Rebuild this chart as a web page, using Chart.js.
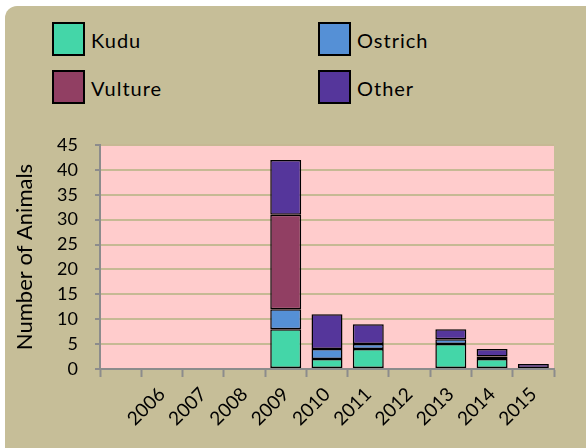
<!DOCTYPE html>
<html>
<head>
    <title>Number of Animals</title>
    <script src="https://cdn.jsdelivr.net/npm/chart.js"></script>
    <style>
        body, html {
            margin: 0;
            padding: 0;
            width: 586px;
            height: 448px;
            overflow: hidden;
            background: #fff;
            font-family: Lato, 'Open Sans', sans-serif;
        }

        .panel {
            position: absolute;
            left: 5px;
            top: 6px;
            width: 600px;
            height: 460px;
            background: #c6be98;
            border-radius: 12px;
        }

        .legend-item {
            position: absolute;
            height: 34px;
            font-size: 20px;
            letter-spacing: 1px;
            color: #000;
        }

        .legend-item .box {
            position: absolute;
            left: 0;
            top: 0;
            width: 29px;
            height: 30px;
            border: 2px solid #000;
        }

        .legend-item span {
            position: absolute;
            left: 39px;
            top: 6px;
            white-space: nowrap;
        }

        #chartWrap {
            position: absolute;
            left: 0;
            top: 0;
            width: 586px;
            height: 448px;
        }
    </style>
</head>
<body>

<div class="panel"></div>

<!-- legend, two columns -->
<div class="legend-item" style="left:52px; top:22px;"><div class="box" style="background:#44d6a8"></div><span>Kudu</span></div>
<div class="legend-item" style="left:318px; top:22px;"><div class="box" style="background:#5590d6"></div><span>Ostrich</span></div>
<div class="legend-item" style="left:52px; top:70px;"><div class="box" style="background:#913f63"></div><span>Vulture</span></div>
<div class="legend-item" style="left:318px; top:70px;"><div class="box" style="background:#55369b"></div><span>Other</span></div>

<div id="chartWrap"><canvas id="animalChart"></canvas></div>

<script>
    // first category has no label in the original
    const years = ['', '2006', '2007', '2008', '2009', '2010', '2011', '2012', '2013', '2014', '2015'];
    const kudu    = [null, null, null, null, 8, 2, 4, null, 5, 2, null];
    const ostrich = [null, null, null, null, 4, 2, 1, null, 1, 0.5, null];
    const vulture = [null, null, null, null, 19, null, null, null, null, null, null];
    const other   = [null, null, null, null, 11, 7, 4, null, 2, 1.5, 1];
    const yTicks  = [0, 5, 10, 15, 20, 25, 30, 35, 40, 45];

    const plotBg = {
        id: 'plotBg',
        beforeDraw(chart) {
            const a = chart.chartArea;
            const ctx = chart.ctx;
            ctx.save();
            ctx.fillStyle = '#ffcccc';
            ctx.fillRect(a.left, a.top, a.right - a.left, a.bottom - a.top);
            ctx.restore();
        }
    };

    function series(label, data, color) {
        return {
            label: label,
            data: data,
            backgroundColor: color,
            borderColor: '#000',
            borderWidth: 1.5,
            borderSkipped: false,
            barPercentage: 0.75,
            categoryPercentage: 1.0
        };
    }

    Chart.defaults.font.family = 'Lato, "Open Sans", sans-serif';
    Chart.defaults.color = '#000';

    new Chart(document.getElementById('animalChart').getContext('2d'), {
        type: 'bar',
        data: {
            labels: years,
            datasets: [
                series('Kudu', kudu, '#44d6a8'),
                series('Ostrich', ostrich, '#5590d6'),
                series('Vulture', vulture, '#913f63'),
                series('Other', other, '#55369b')
            ]
        },
        options: {
            responsive: true,
            maintainAspectRatio: false,
            animation: false,
            layout: { padding: { top: 145, right: 32, left: 0, bottom: 0 } },
            plugins: {
                legend: { display: false },
                tooltip: { enabled: false }
            },
            scales: {
                x: {
                    stacked: true,
                    afterFit(scale) { scale.height = 79; },
                    border: { color: '#8c8c8c', width: 2 },
                    grid: {
                        drawOnChartArea: false,
                        tickLength: 8,
                        tickColor: '#8c8c8c',
                        tickWidth: 2
                    },
                    ticks: {
                        autoSkip: false,
                        minRotation: 45,
                        maxRotation: 45,
                        padding: 6,
                        font: { size: 19 }
                    }
                },
                y: {
                    stacked: true,
                    min: 0,
                    max: 45,
                    afterFit(scale) { scale.width = 100; },
                    afterBuildTicks(scale) {
                        scale.ticks = yTicks.map(v => ({ value: v }));
                    },
                    border: { color: '#8c8c8c', width: 2 },
                    grid: {
                        color: '#c6b994',
                        lineWidth: 2,
                        tickLength: 5,
                        tickColor: '#8c8c8c',
                        tickWidth: 2
                    },
                    ticks: {
                        padding: 17,
                        font: { size: 18 }
                    },
                    title: {
                        display: true,
                        text: 'Number of Animals',
                        font: { size: 22 },
                        padding: { top: 12, bottom: 0 }
                    }
                }
            }
        },
        plugins: [plotBg]
    });
</script>

</body>
</html>
